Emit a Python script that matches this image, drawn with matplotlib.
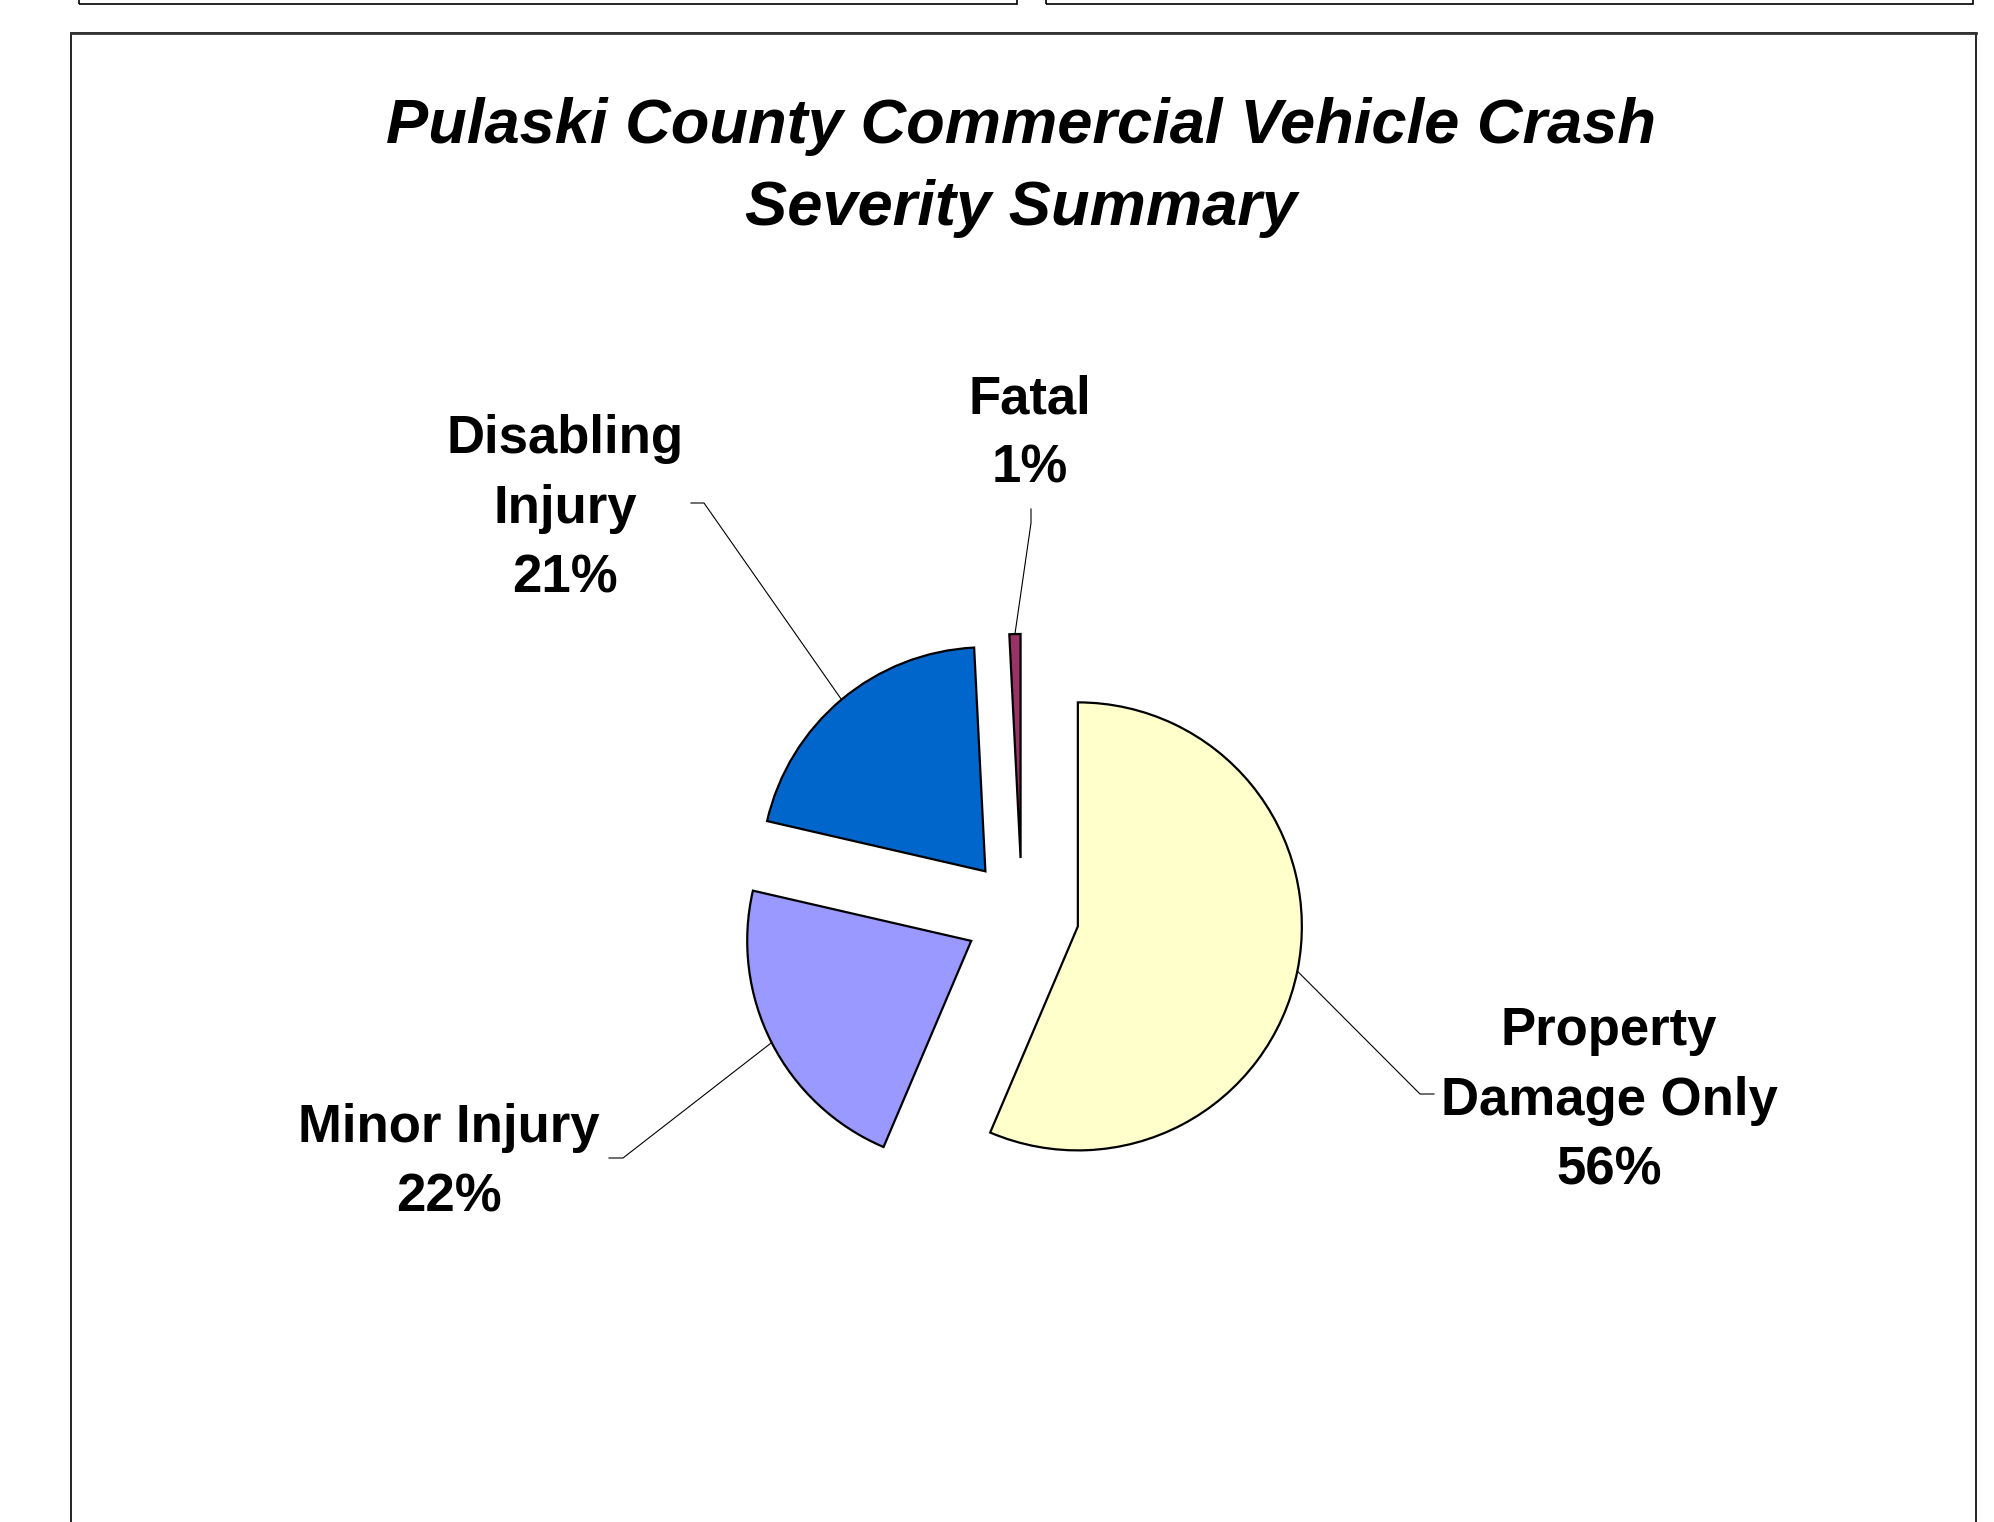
import numpy as np
import matplotlib
matplotlib.use("Agg")
import matplotlib.pyplot as plt
from matplotlib.patches import Rectangle

# data: share of commercial vehicle crashes by severity (percent)
categories = ['Property\nDamage Only', 'Minor Injury', 'Disabling\nInjury', 'Fatal']
shares = [56.4, 22.2, 20.6, 0.8]
colors = ['#FFFFCC', '#9999FF', '#0066CC', '#993366']

W, H = 1994, 1522
FONT = 'Liberation Sans'

fig = plt.figure(figsize=(W / 100, H / 100), dpi=100)
ax = fig.add_axes([0, 0, 1, 1])


def iy(y):
    # image row -> data y
    return H - y


# pie geometry (pixels)
cx, cy = 1022, iy(915)
R = 224
EXPL = 57

wedges, _ = ax.pie(shares, colors=colors, startangle=90, counterclock=False,
                   center=(cx, cy), radius=R, explode=[EXPL] * len(shares),
                   wedgeprops=dict(edgecolor='black', linewidth=1.6))

ax.set_xlim(0, W)
ax.set_ylim(0, H)
ax.set_aspect('equal')
ax.axis('off')

# label positions (block centre) and leader elbows / tick ends, image coords
label_pos = [(1609, 1101), (449, 1163), (565, 509), (1030, 434)]
elbows = [((1420, 1094), (1434, 1094)),
          ((623, 1158), (609, 1158)),
          ((704, 503), (691, 503)),
          ((1031, 523), (1031, 509))]

for w, cat, val, (lx, ly), (el, tk) in zip(wedges, categories, shares, label_pos, elbows):
    tm = np.deg2rad((w.theta1 + w.theta2) / 2)
    wx, wy = w.center
    ex, ey = wx + R * np.cos(tm), wy + R * np.sin(tm)
    ax.plot([ex, el[0], tk[0]], [ey, iy(el[1]), iy(tk[1])], color='black', lw=0.8)
    ax.text(lx, iy(ly), '%s\n%.0f%%' % (cat, val), ha='center', va='center',
            multialignment='center', fontsize=38, fontweight='bold',
            family=FONT, linespacing=1.5)

ax.text(1021, iy(167), 'Pulaski County Commercial Vehicle Crash\nSeverity Summary',
        ha='center', va='center', fontsize=45.5, fontweight='bold', fontstyle='italic',
        family=FONT, linespacing=1.5)

# frames
ax.add_patch(Rectangle((71, -20), 1976 - 71, iy(33) + 20, fill=False,
                       edgecolor='black', lw=1.2))
ax.plot([71, 1976], [iy(33), iy(33)], color='#333333', lw=2.0)
ax.add_patch(Rectangle((79, iy(3.5)), 1017 - 79, 40, fill=False,
                       edgecolor='black', lw=1.2, clip_on=True))
ax.add_patch(Rectangle((1046, iy(3.5)), 1973 - 1046, 40, fill=False,
                       edgecolor='black', lw=1.2, clip_on=True))

fig.savefig('out.png', dpi=100)
